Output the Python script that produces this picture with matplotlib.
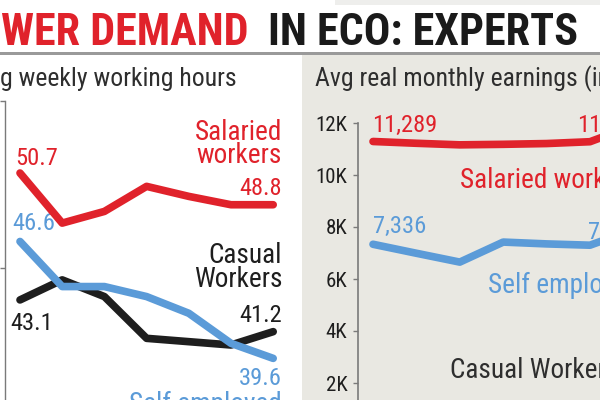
import matplotlib
matplotlib.use('Agg')
import numpy as np
import matplotlib.pyplot as plt
from matplotlib import font_manager as fm
from matplotlib.patches import Rectangle

# ---------------- data ----------------
years = ['2017-18', '2018-19', '2019-20', '2020-21', '2021-22', '2022-23', '2023-24']
hours_salaried = [50.7, 47.7, 48.4, 49.9, 49.3, 48.8, 48.8]
hours_casual = [43.1, 44.3, 43.3, 40.8, 40.6, 40.4, 41.2]
hours_self = [46.6, 43.9, 43.9, 43.3, 42.3, 40.5, 39.6]
earn_salaried = [11289, 11220, 11160, 11180, 11210, 11280, 11900]
earn_self = [7336, 6990, 6650, 7420, 7350, 7300, 7900]
earn_ticks = [2000, 4000, 6000, 8000, 10000, 12000]
earn_tick_labels = ['2K', '4K', '6K', '8K', '10K', '12K']
hours_ticks = [45, 55]

RED = '#e0222b'
BLUE = '#5b9bd8'
BLACK = '#1e1e1e'
DARK = '#2e2e2e'
PANEL = '#e9e8e2'


def _wnum(w):
    if isinstance(w, (int, float)):
        return w
    return {'bold': 700, 'heavy': 800, 'black': 900, 'semibold': 600, 'demibold': 600,
            'normal': 400, 'regular': 400, 'book': 400, 'medium': 500}.get(str(w).lower(), 400)


def find_font(bold):
    pref = ['Liberation Sans Narrow', 'Roboto Condensed', 'Open Sans Condensed', 'Open Sans',
            'Noto Sans', 'DejaVu Sans', 'Roboto', 'Lato', 'Inter', 'Liberation Sans']
    best = None
    for f in fm.fontManager.ttflist:
        if f.style != 'normal':
            continue
        name = f.name
        stretch = str(f.stretch).lower()
        cond = ('narrow' in name.lower() or 'condensed' in name.lower() or 'condensed' in stretch
                or 'narrow' in f.fname.lower() or 'condensed' in f.fname.lower())
        if not cond:
            continue
        if 'extra' in stretch or 'ultra' in stretch or 'extra' in f.fname.lower():
            continue
        w = _wnum(f.weight)
        if bold and w < 600:
            continue
        if not bold and (w < 350 or w > 500):
            continue
        rank = pref.index(name) if name in pref else len(pref)
        key = (rank, abs(w - (700 if bold else 400)))
        if best is None or key < best[0]:
            best = (key, f.fname)
    if best is not None:
        return fm.FontProperties(fname=best[1])
    return fm.FontProperties(family='Roboto', weight='bold' if bold else 'normal')


FP = find_font(False)
FPB = find_font(True)

W, H = 600, 400
fig = plt.figure(figsize=(6, 4), dpi=100)
fig.patch.set_facecolor('white')
renderer = fig.canvas.get_renderer()


def fx(x):
    return x / W


def fy(y):
    return 1 - y / H


def rect(x0, y0, x1, y1, color):
    fig.add_artist(Rectangle((fx(x0), fy(y1)), (x1 - x0) / W, (y1 - y0) / H,
                             transform=fig.transFigure, facecolor=color,
                             edgecolor='none', zorder=-5))


def props(size, bold=False):
    p = (FPB if bold else FP).copy()
    p.set_size(size)
    return p


def width_px(s, size, bold=False):
    t = fig.text(0, 0, s, fontproperties=props(size, bold))
    w = t.get_window_extent(renderer).width
    t.remove()
    return w


def fit(s, target, bold=False):
    return 20 * target / width_px(s, 20, bold)


def ftext(x, y, s, size, color, ha='left', bold=False):
    return fig.text(fx(x), fy(y), s, fontproperties=props(size, bold), color=color, ha=ha,
                    va='baseline')


# backgrounds
rect(302, 55, 600, 400, PANEL)
rect(335, 0, 600, 5, '#eeeeec')
rect(0, 52, 600, 55, '#9a9a9a')

# font sizes
title_size = fit('IN ECO: EXPERTS', 310, bold=True)
sub_size = fit('g weekly working hours', 237)
lab_size = fit('Salaried', 87)
num_size = fit('11,289', 65)
tick_size = fit('12K', 32)

# title
ftext(1, 45, 'WER DEMAND', title_size, RED, bold=True)
ftext(268, 45, 'IN ECO: EXPERTS', title_size, '#1a1a1a', bold=True)

# subtitles
ftext(0, 86, 'g weekly working hours', sub_size, DARK)
ftext(315, 86, 'Avg real monthly earnings (in', sub_size, DARK)

# ---------------- left panel: hours ----------------
x = np.arange(len(years))
lx0, lx1, ly_top, ly_bot = 5, 290, 101.2, 400
ax = fig.add_axes([fx(lx0), fy(ly_bot), (lx1 - lx0) / W, (ly_bot - ly_top) / H])
ax.set_facecolor('none')
ax.set_xlim((lx0 - 20) / 42.2, (lx1 - 20) / 42.2)
ax.set_ylim(50.7 - (ly_bot - 173) / 16.7, 55)
for s in ['top', 'right', 'bottom']:
    ax.spines[s].set_visible(False)
ax.spines['left'].set_color('#7a7a7a')
ax.spines['left'].set_linewidth(1.0)
ax.set_xticks([])
ax.set_yticks(hours_ticks)
ax.tick_params(axis='y', direction='out', length=3.6, width=1.0, color='#7a7a7a', labelleft=False)

kw = dict(lw=5.5, solid_capstyle='round', solid_joinstyle='round')
ax.plot(x, hours_casual, color=BLACK, zorder=3, **kw)
ax.plot(x, hours_self, color=BLUE, zorder=4, **kw)
ax.plot(x, hours_salaried, color=RED, zorder=5, **kw)


def ann(a, s, i, v, dx, dy, ha, color, size):
    a.annotate(s, xy=(x[i], v), xytext=(dx * 0.72, dy * 0.72), textcoords='offset points',
               ha=ha, va='baseline', color=color, fontproperties=props(size),
               annotation_clip=False)


last = len(years) - 1
ann(ax, f'{hours_salaried[0]}', 0, hours_salaried[0], -5, 8, 'left', RED, num_size)
ann(ax, f'{hours_self[0]}', 0, hours_self[0], -8, 11.5, 'left', BLUE, num_size)
ann(ax, f'{hours_casual[0]}', 0, hours_casual[0], -10, -30, 'left', BLACK, num_size)
ann(ax, f'{hours_salaried[last]}', last, hours_salaried[last], 9, 10, 'right', RED, num_size)
ann(ax, f'{hours_casual[last]}', last, hours_casual[last], 9, 10, 'right', BLACK, num_size)
ann(ax, f'{hours_self[last]}', last, hours_self[last], 9, -27, 'right', BLUE, num_size)
ann(ax, 'Salaried', last, hours_salaried[last], 9, 65, 'right', RED, lab_size)
ann(ax, 'workers', last, hours_salaried[last], 9, 42, 'right', RED, lab_size)
ann(ax, 'Casual', last, hours_casual[last], 9, 69, 'right', BLACK, lab_size)
ann(ax, 'Workers', last, hours_casual[last], 9, 45, 'right', BLACK, lab_size)
ann(ax, 'Self employed', last, hours_self[last], 9, -54, 'right', BLUE, lab_size)

# ---------------- right panel: earnings ----------------
rx0, rx1, ry_top, ry_bot = 358, 660, 123, 400
ax2 = fig.add_axes([fx(rx0), fy(ry_bot), (rx1 - rx0) / W, (ry_bot - ry_top) / H])
ax2.set_facecolor('none')
ax2.set_xlim((rx0 - 373) / 43.4, (rx1 - 373) / 43.4)
ax2.set_ylim(12000 - (ry_bot - ry_top) / 26 * 1000, 12000)
for s in ['top', 'right', 'bottom']:
    ax2.spines[s].set_visible(False)
ax2.spines['left'].set_color('#7a7a7a')
ax2.spines['left'].set_linewidth(1.2)
ax2.set_xticks([])
ax2.set_yticks(earn_ticks)
ax2.set_yticklabels(earn_tick_labels)
ax2.tick_params(axis='y', direction='out', length=3.6, width=1.0, color='#7a7a7a',
                pad=4, labelcolor='#1e1e1e')
for t in ax2.get_yticklabels():
    t.set_fontproperties(props(tick_size))

ax2.plot(x, earn_self, color=BLUE, zorder=4, clip_on=False, **kw)
ax2.plot(x, earn_salaried, color=RED, zorder=5, clip_on=False, **kw)

ann(ax2, f'{earn_salaried[0]:,}', 0, earn_salaried[0], -1, 9.5, 'left', RED, num_size)
ann(ax2, f'{earn_salaried[last]:,}', last, earn_salaried[last], 9, -6, 'right', RED, num_size)
ann(ax2, f'{earn_self[0]:,}', 0, earn_self[0], 0, 11, 'left', BLUE, num_size)
ann(ax2, f'{earn_self[last]:,}', last, earn_self[last], 8, -9, 'right', BLUE, num_size)

ftext(460, 188, 'Salaried workers', lab_size, RED)
ftext(488, 293, 'Self employed', lab_size, BLUE)
ftext(450, 378, 'Casual Workers', lab_size, DARK)

fig.savefig('out.png', dpi=100)
